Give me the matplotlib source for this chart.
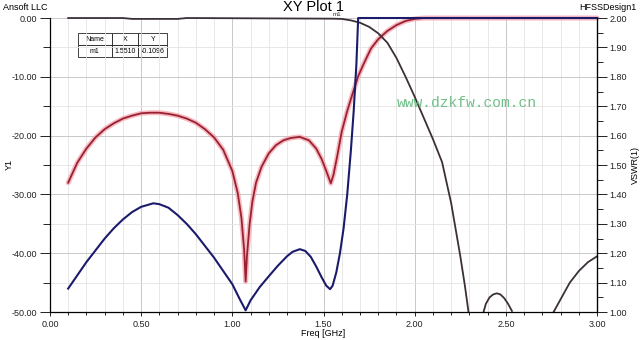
import numpy as np
import matplotlib
matplotlib.use("Agg")
import matplotlib.pyplot as plt
from matplotlib.ticker import MultipleLocator, FormatStrFormatter

plt.rcParams['font.family'] = ['Liberation Sans', 'DejaVu Sans']

# S11 (dB, left axis) - red
red_f = [0.10, 0.15, 0.20, 0.25, 0.30, 0.35, 0.40, 0.45, 0.50, 0.55, 0.60, 0.65, 0.70,
         0.75, 0.80, 0.85, 0.90, 0.95, 1.00, 1.03, 1.05, 1.065, 1.073, 1.08, 1.095, 1.11, 1.13,
         1.16, 1.20, 1.24, 1.28, 1.32, 1.37, 1.42, 1.46, 1.49, 1.515, 1.54, 1.555, 1.575, 1.60,
         1.63, 1.66, 1.69, 1.72, 1.76, 1.80, 1.85, 1.90, 1.95, 2.00, 2.05, 3.00]
red_db = [-28.0, -24.6, -22.2, -20.3, -18.9, -17.9, -17.1, -16.6, -16.2, -16.1, -16.1, -16.3, -16.6,
          -17.1, -17.8, -18.9, -20.3, -22.4, -26.0, -29.8, -34.0, -39.5, -44.8, -40.5, -35.0, -31.2, -28.0,
          -25.3, -23.0, -21.6, -20.8, -20.4, -20.2, -20.8, -22.2, -24.0, -26.0, -28.1, -26.6, -23.5, -19.3,
          -15.8, -12.8, -9.9, -7.8, -5.2, -3.6, -2.2, -1.2, -0.5, -0.15, 0.0, 0.0]

# VSWR (right axis) - blue
blue_f = [0.10, 0.15, 0.20, 0.25, 0.30, 0.35, 0.40, 0.45, 0.50, 0.567, 0.60, 0.65, 0.70, 0.75,
          0.80, 0.85, 0.90, 0.95, 1.00, 1.04, 1.073, 1.10, 1.15, 1.20, 1.25, 1.30, 1.33, 1.37,
          1.40, 1.43, 1.46, 1.49, 1.515, 1.536, 1.55, 1.57, 1.59, 1.61, 1.63, 1.65, 1.665,
          1.68, 1.69, 3.00]
blue_vswr = [1.08, 1.125, 1.17, 1.21, 1.25, 1.285, 1.315, 1.34, 1.358, 1.37, 1.367, 1.355, 1.33, 1.30,
             1.265, 1.225, 1.185, 1.14, 1.095, 1.045, 1.006, 1.04, 1.085, 1.122, 1.158, 1.19, 1.205, 1.214,
             1.208, 1.188, 1.155, 1.118, 1.09, 1.078, 1.09, 1.135, 1.20, 1.285, 1.40, 1.55, 1.68,
             1.84, 2.00, 2.00]

# S21 (dB, left axis) - dark; nan where it leaves the plot range
black_f = [0.10, 0.40, 0.45, 0.70, 0.75, 1.55, 1.60, 1.65, 1.70, 1.75, 1.80, 1.85, 1.90, 1.95,
           2.00, 2.05, 2.10, 2.15, 2.20, 2.25, 2.275, 2.295, 2.30,
           2.377, 2.39, 2.41, 2.43, 2.45, 2.47, 2.49, 2.51, 2.533, 2.54,
           2.761, 2.80, 2.85, 2.90, 2.95, 3.00]
black_db = [0.0, 0.0, -0.15, -0.15, 0.0, -0.11, -0.15, -0.4, -0.8, -1.5, -2.6, -4.2, -6.8, -10.0,
            -13.4, -17.0, -20.6, -24.5, -31.5, -40.5, -45.5, -50.0, np.nan,
            -50.0, -48.6, -47.5, -47.0, -46.8, -47.0, -47.6, -48.5, -49.8, np.nan,
            -50.0, -47.8, -45.0, -43.0, -41.5, -40.5]

marker_cols = ["Name", "X", "Y"]
marker_row = ["m1", "1.5510", "-0.1096"]

fig = plt.figure(figsize=(6.4, 3.4), dpi=100)
ax = fig.add_axes([0.078, 0.082, 0.855, 0.865])
ax2 = ax.twinx()

ax.set_xlim(0, 3)
ax.set_ylim(-50, 0)
ax2.set_ylim(1.0, 2.0)

ax.xaxis.set_major_locator(MultipleLocator(0.5))
ax.xaxis.set_minor_locator(MultipleLocator(0.1))
ax.yaxis.set_major_locator(MultipleLocator(10))
ax.yaxis.set_minor_locator(MultipleLocator(5))
ax2.yaxis.set_major_locator(MultipleLocator(0.1))
ax2.yaxis.set_minor_locator(MultipleLocator(0.05))
ax.xaxis.set_major_formatter(FormatStrFormatter('%.2f'))
ax.yaxis.set_major_formatter(FormatStrFormatter('%.2f'))
ax2.yaxis.set_major_formatter(FormatStrFormatter('%.2f'))

ax.grid(which='major', color='#c8c8c8', lw=0.7)
ax.grid(which='minor', color='#e4e4e4', lw=0.6)
ax.set_axisbelow(True)

for a in (ax, ax2):
    a.spines['top'].set_visible(False)
    a.tick_params(labelsize=6.5, colors='#222222', width=0.7)
ax.tick_params(axis='y', which='major', length=7, pad=2)
ax.tick_params(axis='y', which='minor', length=5)
ax.tick_params(axis='x', which='major', length=3, pad=3)
ax.tick_params(axis='x', which='minor', length=2)
ax2.tick_params(axis='y', which='major', length=7, pad=2)
ax2.tick_params(axis='y', which='minor', length=4)
for s in ('left', 'bottom'):
    ax.spines[s].set_linewidth(0.9)
ax2.spines['right'].set_linewidth(0.9)
ax2.spines['left'].set_visible(False)
ax2.spines['bottom'].set_visible(False)

# red with pink halo
ax.plot(red_f, red_db, color='#f6a9b2', lw=3.6, alpha=0.8, solid_capstyle='round', clip_on=False)
ax.plot(red_f, red_db, color='#9a2131', lw=1.3, clip_on=False)
ax.plot(black_f, black_db, color='#3b3039', lw=1.3, clip_on=False)
ax2.plot(blue_f, blue_vswr, color='#1b1b6b', lw=1.5, clip_on=False)

ax.text(1.575, 0.15, "m1", fontsize=4.5, ha='center', va='bottom', color='#333333')

tbl = ax.table(cellText=[marker_row], colLabels=marker_cols, cellLoc='center',
               bbox=[0.051, 0.867, 0.163, 0.082], colWidths=[0.38, 0.30, 0.32])
tbl.auto_set_font_size(False)
tbl.set_fontsize(5)
for cell in tbl.get_celld().values():
    cell.set_linewidth(0.6)
    cell.set_edgecolor('#222222')
    cell.set_facecolor('white')

ax.set_xlabel("Freq [GHz]", fontsize=6.5, labelpad=0)
ax2.set_ylabel("VSWR(1)", fontsize=6.5, rotation=90, labelpad=3)
fig.text(0.014, 0.515, "Y1", fontsize=6.5, rotation=90, ha='center', va='center')

fig.text(0.49, 0.98, "XY Plot 1", fontsize=10.5, ha='center', va='center')
fig.text(0.005, 0.978, "Ansoft LLC", fontsize=6.5, ha='left', va='center')
fig.text(0.995, 0.978, "HFSSDesign1", fontsize=6.5, ha='right', va='center')
fig.text(0.73, 0.697, "www.dzkfw.com.cn", fontsize=10.5, family='Liberation Mono',
         color='#6fbf88', ha='center', va='center')

fig.savefig("out.png", dpi=100)
